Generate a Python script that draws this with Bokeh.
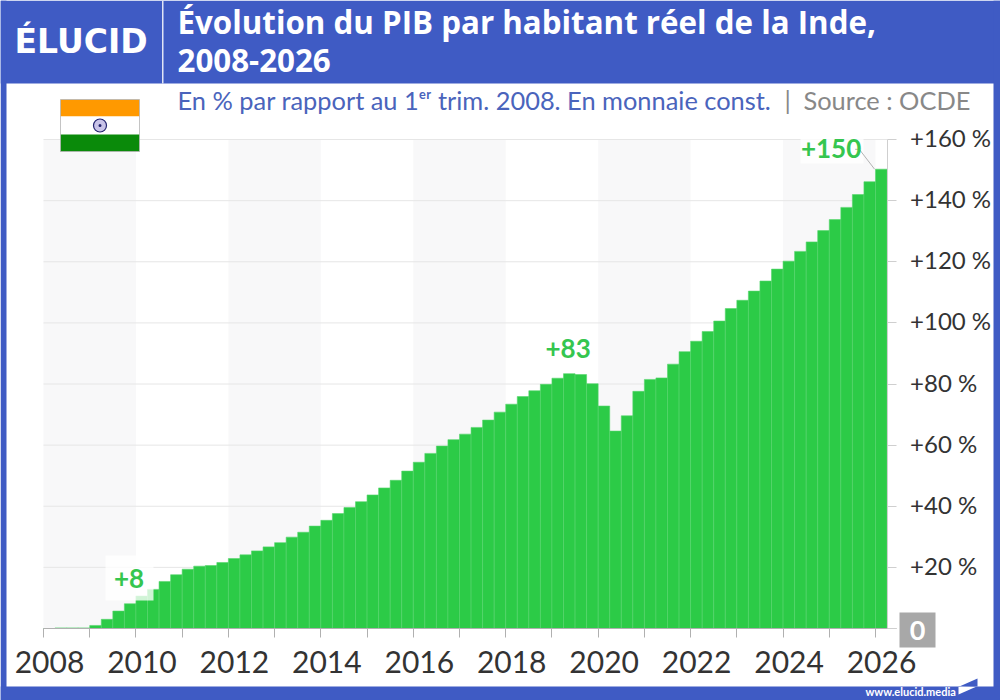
from bokeh.plotting import figure
from bokeh.models import Range1d, LinearAxis, FixedTicker, Label
from bokeh.embed import file_html
from bokeh.resources import INLINE

FONT = "Lato"
BLUE = "#3f5bc4"
GREEN = "#2ccb47"

first_year = 2008
pib_values = [
    0.0, 0.2, 0.2, 0.2,
    1.0, 3.0, 5.7, 8.1,
    10.6, 12.8, 15.4, 17.6,
    19.4, 20.4, 20.6, 21.6,
    22.9, 24.1, 25.4, 26.7,
    28.1, 29.9, 31.5, 33.5,
    35.4, 37.6, 39.6, 41.5,
    43.7, 46.0, 48.5, 51.5,
    54.4, 57.3, 59.7, 61.8,
    63.6, 65.8, 68.2, 70.8,
    73.4, 75.9, 77.8, 79.9,
    81.9, 83.4, 83.1, 80.1,
    72.8, 64.6, 69.6, 77.6,
    81.5, 82.0, 86.5, 90.6,
    94.0, 97.2, 100.6, 104.7,
    107.4, 110.4, 113.7, 117.6,
    120.2, 123.4, 126.5, 130.2,
    133.8, 137.8, 142.0, 146.2,
    150.3,
]
quarter_centers = [first_year + (i + 0.5) * 0.25 for i in range(len(pib_values))]

band_starts = [2008, 2012, 2016, 2020, 2024]
band_ends = [2010, 2014, 2018, 2022, 2026]
label_years = [2008, 2010, 2012, 2014, 2016, 2018, 2020, 2022, 2024, 2026]
all_years = list(range(2008, 2027))
y_ticks = [0, 20, 40, 60, 80, 100, 120, 140, 160]
y_labels = ["+20 %", "+40 %", "+60 %", "+80 %", "+100 %", "+120 %", "+140 %", "+160 %"]

# Layout: the plot frame fills the canvas, the scale maps the years and % into it.
PX_YEAR = 46.222
PX_PCT = 3.056
LEFT, ZERO = 43, 628
x_end_year = 2026.25

p = figure(width=1000, height=700, output_backend="svg", toolbar_location=None,
           x_axis_type=None, y_axis_type=None,
           x_range=Range1d(first_year - LEFT / PX_YEAR, first_year + (1000 - LEFT) / PX_YEAR),
           y_range=Range1d(-(700 - ZERO) / PX_PCT, ZERO / PX_PCT),
           min_border_left=0, min_border_right=0, min_border_top=0, min_border_bottom=0,
           background_fill_color="white", border_fill_color="white", outline_line_color=None)
p.grid.visible = False
p.extra_x_ranges["px"] = Range1d(0, 1000)
p.extra_y_ranges["py"] = Range1d(700, 0)
PXR = dict(x_range_name="px", y_range_name="py")

# Alternating bands and grid
p.quad(left=band_starts, right=band_ends, bottom=0, top=160, fill_color="#f8f8f9", line_color=None)
p.segment(x0=first_year, x1=x_end_year, y0=y_ticks[1:], y1=y_ticks[1:], line_color="#e6e6e6", line_width=1)

# Bars
p.vbar(x=quarter_centers, top=pib_values, width=0.25, bottom=0,
       fill_color=GREEN, line_color="#55d56c", line_width=0.6)

# Annotation backgrounds and leader
p.quad(left=[105, 800], right=[153, 863], top=[555, 135], bottom=[600, 163],
       fill_color="white", fill_alpha=0.78, line_color=None, **PXR)
p.line([2025.56, 2025.65, 2025.98], [156.8, 156.8, 150.3], line_color="#a0a0a0", line_width=0.8)

# Frame, flag, logo separator, zero box
def box(l, r, t, b, color, **kw):
    p.quad(left=l, right=r, top=t, bottom=b, fill_color=color, line_color=kw.pop("line_color", None), **kw, **PXR)

box(0, 1000, 0, 83, BLUE)
box(0, 6, 0, 700, BLUE)
box(993, 1000, 0, 700, BLUE)
box(0, 1000, 686, 700, BLUE)
box(161.5, 163, 0, 83, "#dfe4f5")

box(60, 139, 99, 116, "#ff9900")
box(60, 139, 116, 134, "#ffffff")
box(60, 139, 134, 151, "#0a8a0a")
box(60, 139, 99, 151, "#ffffff", fill_alpha=0, line_color="#b5b5b5", line_width=0.8)
p.scatter(x=[99.5], y=[125], size=13, marker="circle", fill_color="#c9c3e8", line_color="#23236e", line_width=1.2, **PXR)
p.scatter(x=[99.5], y=[125], size=3, marker="circle", fill_color="#23236e", line_color=None, **PXR)

box(899, 935, 612, 647, "#a8a8a8")

p.patch(x=[960, 977, 977], y=[685.5, 678, 686], fill_color=BLUE, line_color=None, **PXR)
p.patch(x=[958, 975, 958], y=[686.5, 686.5, 694], fill_color="white", line_color=None, **PXR)

# Axes
label_offset = 0.13
xax = LinearAxis(ticker=FixedTicker(ticks=[y + label_offset for y in label_years], minor_ticks=all_years),
                 major_label_overrides={y + label_offset: str(y) for y in label_years},
                 fixed_location=0, bounds=(first_year, x_end_year + 0.2),
                 major_tick_out=0, major_tick_in=0, minor_tick_out=9, minor_tick_in=0,
                 minor_tick_line_color="#b0b0b0", axis_line_color="#b0b0b0",
                 major_label_text_font=FONT, major_label_text_font_size="30px",
                 major_label_text_color="#333333", major_label_standoff=13)
p.add_layout(xax, "below")

y_label_offset = 0.65
yax = LinearAxis(ticker=FixedTicker(ticks=[v + y_label_offset for v in y_ticks[1:]], minor_ticks=y_ticks),
                 major_label_overrides={v + y_label_offset: s for v, s in zip(y_ticks[1:], y_labels)},
                 fixed_location=x_end_year, bounds=(0, 160),
                 major_tick_out=0, major_tick_in=0, minor_tick_out=9, minor_tick_in=0,
                 minor_tick_line_color="#cfcfcf", axis_line_color="#cfcfcf",
                 major_label_text_font=FONT, major_label_text_font_size="24px",
                 major_label_text_color="#333333", major_label_standoff=14)
p.add_layout(yax, "right")

# Texts
def text(s, x, y, size, color, style="normal", align="left", font=FONT):
    p.add_layout(Label(x=x, y=y, text=s, text_font=font, text_font_size=size, text_color=color,
                       text_font_style=style, text_align=align, text_baseline="alphabetic", **PXR))

def value_label(s, x, y):
    p.add_layout(Label(x=x, y=y, text=s, text_font=FONT, text_font_size="26px", text_font_style="bold",
                       text_color="#35c64f", text_align="center", text_baseline="middle"))

value_label("+8", 2009.85, 16.3)
value_label("+83", 2019.35, 91.5)
value_label("+150", 2025.04, 157.1)

text("0", 917, 630, "27px", "white", "bold", "center")
text("ÉLUCID", 14, 41, "33px", "white", "bold", font="DejaVu Sans")
text("Évolution du PIB par habitant réel de la Inde,", 177, 21, "31.3px", "white", "bold", font="Open Sans")
text("2008-2026", 177, 60, "31.3px", "white", "bold", font="Open Sans")
text("En % par rapport au 1ᵉʳ trim. 2008. En monnaie const.", 177, 99.5, "25.4px", "#4a64bc")
text("|", 784, 99.5, "25.4px", "#888888")
text("Source : OCDE", 803, 99.5, "25.4px", "#888888")
text("www.elucid.media", 865, 691, "11px", "white", "bold")

open("out.html", "w").write(file_html(p, INLINE))
